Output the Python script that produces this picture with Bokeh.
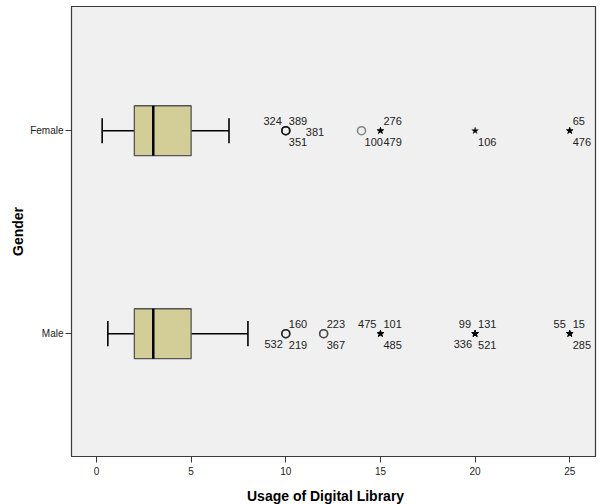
import numpy as np
from bokeh.plotting import figure
from bokeh.layouts import column
from bokeh.models import ColumnDataSource, FixedTicker, Range1d, Div
from bokeh.core.properties import value
from bokeh.embed import file_html
from bokeh.resources import INLINE

# ---- data ----
genders = ["Female", "Male"]
gender_pos = [2, 1]
whisker_low = [0.3, 0.6]
q1 = [2, 2]
median = [3, 3]
q3 = [5, 5]
whisker_high = [7, 8]

female_out_values = [10, 10, 10, 10, 14, 15, 15, 20, 25, 25]
female_out_ids = ["324", "389", "381", "351", "100", "276", "479", "106", "65", "476"]
female_label_place = ["ul", "ur", "r", "lr", "lr", "ur", "lr", "lr", "ur", "lr"]

male_out_values = [10, 10, 10, 12, 12, 15, 15, 15, 20, 20, 20, 20, 25, 25, 25]
male_out_ids = ["160", "532", "219", "223", "367", "475", "101", "485",
                "99", "131", "336", "521", "55", "15", "285"]
male_label_place = ["ur", "ll", "lr", "ur", "lr", "ul", "ur", "lr",
                    "ul", "ur", "ll", "lr", "ul", "ur", "lr"]

x_ticks = [0, 5, 10, 15, 20, 25]
x_title = "Usage of Digital Library"
y_title = "Gender"

# ---- styles ----
FONT = "Liberation Sans"
BOX_FILL = "#D3CE98"
place_style = {
    "ur": (3, -10, "left"),
    "lr": (3, 11, "left"),
    "ul": (-4, -10, "right"),
    "ll": (-3, 10, "right"),
    "r": (20, 1, "left"),
}
X0, X1 = -1.32, 26.36
Y0, Y1 = 0.395, 2.612

p = figure(width=593, height=477, output_backend="svg", toolbar_location=None,
           x_range=Range1d(X0, X1), y_range=Range1d(Y0, Y1),
           min_border_left=4, min_border_right=5, min_border_top=6, min_border_bottom=0,
           margin=(0, 0, 0, 7))
p.background_fill_color = "#F0F0F0"
p.border_fill_color = "white"
p.outline_line_color = "#3a3a3a"
p.outline_line_width = 1.2
p.xgrid.visible = False
p.ygrid.visible = False

# boxes
ys = np.array(gender_pos, dtype=float)
box_src = ColumnDataSource(dict(y=gender_pos, lo=whisker_low, q1=q1, med=median,
                                q3=q3, hi=whisker_high))
p.segment(x0="lo", y0="y", x1="q1", y1="y", source=box_src, line_color="black", line_width=1.5)
p.segment(x0="q3", y0="y", x1="hi", y1="y", source=box_src, line_color="black", line_width=1.5)
cap = 0.062
cap_src = ColumnDataSource(dict(lo=whisker_low, hi=whisker_high, y0=ys - cap, y1=ys + cap))
p.segment(x0="lo", y0="y0", x1="lo", y1="y1", source=cap_src, line_color="black", line_width=1.6)
p.segment(x0="hi", y0="y0", x1="hi", y1="y1", source=cap_src, line_color="black", line_width=1.6)
p.hbar(y="y", left="q1", right="q3", height=0.246, source=box_src,
       fill_color=BOX_FILL, line_color="#555555", line_width=1.3)
bh = 0.246 / 2
med_src = ColumnDataSource(dict(m=median, y0=ys - bh, y1=ys + bh))
p.segment(x0="m", y0="y0", x1="m", y1="y1", source=med_src, line_color="black", line_width=2.5)

# outliers
for vals, ids, places, gi in [(female_out_values, female_out_ids, female_label_place, 0),
                              (male_out_values, male_out_ids, male_label_place, 1)]:
    iqr = q3[gi] - q1[gi]
    ext = [v > q3[gi] + 3 * iqr for v in vals]
    ypos = gender_pos[gi]
    circ = ColumnDataSource(dict(x=[v for v, e in zip(vals, ext) if not e],
                                 y=[ypos for e in ext if not e]))
    star = ColumnDataSource(dict(x=[v for v, e in zip(vals, ext) if e],
                                 y=[ypos for e in ext if e]))
    p.scatter(x="x", y="y", source=circ, marker="circle", size=8, fill_color=None,
              line_color="black", line_alpha=0.45, line_width=1.6)
    p.scatter(x="x", y="y", source=star, marker="star", size=7, fill_color="black",
              line_color="black", line_width=0.4)
    lab = ColumnDataSource(dict(x=vals, y=[ypos] * len(vals), t=ids,
                                xo=[place_style[pl][0] for pl in places],
                                yo=[place_style[pl][1] for pl in places],
                                al=[place_style[pl][2] for pl in places]))
    p.text(x="x", y="y", text="t", x_offset="xo", y_offset="yo", text_align="al",
           text_baseline="middle", source=lab, text_font=value(FONT),
           text_font_size="11px", text_color="#222222")

# axes
p.xaxis.ticker = FixedTicker(ticks=x_ticks)
p.xaxis.minor_tick_line_color = None
p.xaxis.major_tick_in = 0
p.xaxis.major_tick_out = 6
p.xaxis.major_label_standoff = 4

p.yaxis.ticker = FixedTicker(ticks=gender_pos)
p.yaxis.major_label_overrides = {gp: g for gp, g in zip(gender_pos, genders)}
p.yaxis.minor_tick_line_color = None
p.yaxis.major_tick_in = 0
p.yaxis.major_tick_out = 6
p.yaxis.major_label_standoff = 2
p.yaxis.axis_label = y_title
p.yaxis.axis_label_standoff = 1

for ax in (p.xaxis[0], p.yaxis[0]):
    ax.axis_line_color = "#3a3a3a"
    ax.major_tick_line_color = "#3a3a3a"
    ax.major_label_text_font = FONT
    ax.major_label_text_font_size = "10px"
    ax.major_label_text_color = "#222222"
    ax.axis_label_text_font = FONT
    ax.axis_label_text_font_style = "bold"
    ax.axis_label_text_font_size = "14px"
    ax.axis_label_text_color = "black"

title_div = Div(text=x_title, width=600, height=16,
                styles={"font-family": FONT, "font-weight": "bold", "font-size": "14px",
                        "line-height": "16px", "text-indent": "247px", "color": "black",
                        "margin": "0", "padding": "0"})

layout = column(p, title_div, spacing=11)
open("out.html", "w").write(file_html(layout, INLINE))
